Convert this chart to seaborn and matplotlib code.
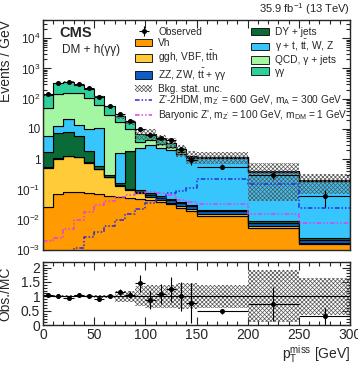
import numpy as np
import pandas as pd
import seaborn as sns
import matplotlib.pyplot as plt
from matplotlib.patches import Patch
from matplotlib.lines import Line2D
from matplotlib.ticker import LogLocator, NullFormatter, MultipleLocator

# binning in pTmiss [GeV]
edges = [0, 10, 20, 30, 40, 50, 60, 70, 80, 90, 100, 110, 120, 130, 140, 150, 200, 250, 300]

# backgrounds, events / GeV
vh = [0.026, 0.07, 0.08, 0.08, 0.076, 0.07, 0.062, 0.057, 0.052, 0.048, 0.045, 0.039, 0.033, 0.025, 0.02, 0.0135, 0.0055, 0.0016]
ggh = [0.504, 0.98, 1.2, 1.12, 0.704, 0.40, 0.188, 0.073, 0.045, 0.027, 0.013, 0.006, 0.004, 0.003, 0.002, 0.0015, 0.0005, 0.0001]
zz = [0.01, 0.02, 0.02, 0.02, 0.01, 0.01, 0.01, 0.01, 0.008, 0.007, 0.008, 0.009, 0.008, 0.007, 0.006, 0.004, 0.002, 0.0005]
dy = [1.16, 6.53, 6.7, 4.8, 1.1, 0.12, 0.04, 0.03, 1.8, 0.013, 0.009, 0.006, 0.005, 0.004, 0.003, 0.002, 0.0008, 0.0002]
gx = [4.2, 5.0, 13.0, 8.0, 7.9, 10.4, 0.0, 1.41, 0.0, 2.2, 2.9, 2.34, 1.95, 1.46, 1.07, 1.08, 0.37, 0.188]
qcd = [45, 127, 137, 136, 98, 49, 27.7, 15.4, 8.4, 1.3, 1.2, 0.7, 0.5, 0.3, 0.05, 0.05, 0.01, 0.005]
gg = [82, 190, 208, 141, 108, 61, 28, 10, 6.7, 3.3, 2.8, 1.4, 1.05, 0.3, 0.1, 0.05, 0.02, 0.005]
bkg_unc = [0.04, 0.03, 0.03, 0.03, 0.04, 0.05, 0.06, 0.2, 0.2, 0.35, 0.4, 0.4, 0.4, 0.45, 0.45, 0.4, 0.9, 0.65]

# data
obs = [140, 330, 348, 300, 220, 111, 56, 31, 18, 10, 6.1, 4.9, 4.4, 2.1, 0.95, 0.57, 0.30, 0.062]
obs_err = [3.7, 5.7, 5.9, 5.5, 4.7, 3.3, 2.4, 1.8, 1.3, 1.0, 0.8, 0.7, 0.66, 0.46, 0.31, 0.11, 0.08, 0.035]
ratio_err = [0.03, 0.02, 0.02, 0.02, 0.03, 0.03, 0.05, 0.1, 0.12, 0.3, 0.3, 0.35, 0.45, 0.5, 0.7, 0.09, 0.6, 0.3]

# signals
sig_2hdm = [0.0003, 0.0005, 0.0008, 0.0012, 0.0026, 0.004, 0.0063, 0.0095, 0.015, 0.022, 0.035, 0.05, 0.075, 0.09, 0.115, 0.22, 0.15, 0.025]
sig_bar = [0.002, 0.0024, 0.005, 0.0095, 0.018, 0.03, 0.042, 0.055, 0.065, 0.075, 0.08, 0.075, 0.065, 0.045, 0.04, 0.033, 0.015, 0.008]

procs = ['γγ', 'QCD, γ + jets', 'γ + t, $t\\bar{t}$, W, Z', 'DY + jets',
         'ZZ, ZW, $t\\bar{t}$ + γγ', 'ggh, VBF, $t\\bar{t}$h', 'Vh']
values = [gg, qcd, gx, dy, zz, ggh, vh]
colors = {'γγ': '#2fcf9c', 'QCD, γ + jets': '#a3f7a3', 'γ + t, $t\\bar{t}$, W, Z': '#36c6fb',
          'DY + jets': '#0a6a38', 'ZZ, ZW, $t\\bar{t}$ + γγ': '#0b5fc6',
          'ggh, VBF, $t\\bar{t}$h': '#ffcb38', 'Vh': '#ff9b00'}
hatch_col = '#555555'

e = np.array(edges, dtype=float)
centers = (e[:-1] + e[1:]) / 2
widths = np.diff(e)
mc = np.sum(np.array(values), axis=0)
obs = np.array(obs)
ratio = obs / mc

df = pd.DataFrame({'pt': np.tile(centers, len(procs)),
                   'value': np.concatenate(values),
                   'process': np.repeat(procs, len(centers))})

sns.set_style('ticks')
plt.rcParams['font.family'] = ['Liberation Sans', 'DejaVu Sans']
plt.rcParams['mathtext.default'] = 'regular'
plt.rcParams['hatch.linewidth'] = 0.5

fig = plt.figure(figsize=(3.58, 3.67), dpi=100)
ax = fig.add_axes([0.120, 0.3188, 0.858, 0.6267])
rax = fig.add_axes([0.120, 0.1144, 0.858, 0.172])

sns.histplot(data=df, x='pt', weights='value', hue='process', hue_order=procs, palette=colors,
             bins=edges, multiple='stack', element='step', fill=True, alpha=1,
             edgecolor='black', linewidth=0.8, legend=False, ax=ax)

# bkg stat unc
lo = np.clip(mc * (1 - np.array(bkg_unc)), 1e-5, None)
hi = mc * (1 + np.array(bkg_unc))
ax.fill_between(e, np.append(lo, lo[-1]), np.append(hi, hi[-1]), step='post',
                facecolor='none', edgecolor=hatch_col, hatch='xxxxxxxx', linewidth=0)

dash = (3, 1.3, 1, 1.3, 1, 1.3)
sns.lineplot(x=e, y=np.append(sig_2hdm, sig_2hdm[-1]), drawstyle='steps-post',
             color='#2b2be0', lw=1.1, dashes=dash, ax=ax)
sns.lineplot(x=e, y=np.append(sig_bar, sig_bar[-1]), drawstyle='steps-post',
             color='#e040f0', lw=1.1, dashes=dash, ax=ax)

eb = ax.errorbar(centers, obs, xerr=widths / 2, yerr=obs_err, fmt='o', ms=2.6,
                 color='black', elinewidth=0.8, capsize=0)

ax.set_yscale('log')
ax.set_ylim(1e-3, 4e4)
ax.set_xlim(0, 300)
yt = [1e-3, 1e-2, 1e-1, 1, 10, 1e2, 1e3, 1e4]
ax.set_yticks(yt, labels=['$10^{-3}$', '$10^{-2}$', '$10^{-1}$', '1', '10', '$10^{2}$', '$10^{3}$', '$10^{4}$'])
ax.yaxis.set_minor_locator(LogLocator(base=10, subs=np.arange(2, 10) * 1.0, numticks=20))
ax.yaxis.set_minor_formatter(NullFormatter())
ax.xaxis.set_major_locator(MultipleLocator(50))
ax.xaxis.set_minor_locator(MultipleLocator(10))
ax.tick_params(axis='x', labelbottom=False)
ax.set_xlabel('')
ax.set_ylabel('Events / GeV', loc='top', fontsize=10)
ax.yaxis.set_label_coords(-0.098, 1.0)

for a in (ax, rax):
    a.tick_params(which='both', direction='in', top=True, right=True, width=0.8)
    a.tick_params(which='major', length=6)
    a.tick_params(which='minor', length=3)
    for s in a.spines.values():
        s.set_linewidth(1.0)
ax.tick_params(axis='y', labelsize=8.5, pad=2)

ax.text(0.055, 0.945, 'CMS', transform=ax.transAxes, fontsize=10.5, fontweight='bold', va='center')
ax.text(0.062, 0.868, 'DM + h(γγ)', transform=ax.transAxes, fontsize=8.5, va='center')
ax.text(1.0, 1.012, '35.9 fb$^{-1}$ (13 TeV)', transform=ax.transAxes, fontsize=8, ha='right', va='bottom')

# legend
handles = [eb,
           Patch(facecolor=colors['Vh'], edgecolor='black', lw=0.6),
           Patch(facecolor=colors['ggh, VBF, $t\\bar{t}$h'], edgecolor='black', lw=0.6),
           Patch(facecolor=colors['ZZ, ZW, $t\\bar{t}$ + γγ'], edgecolor='black', lw=0.6),
           Patch(facecolor='white', edgecolor=hatch_col, hatch='xxxxxxxx', lw=0),
           Patch(facecolor=colors['DY + jets'], edgecolor='black', lw=0.6),
           Patch(facecolor=colors['γ + t, $t\\bar{t}$, W, Z'], edgecolor='black', lw=0.6),
           Patch(facecolor=colors['QCD, γ + jets'], edgecolor='black', lw=0.6),
           Patch(facecolor=colors['γγ'], edgecolor='black', lw=0.6)]
labels = ['Observed', 'Vh', 'ggh, VBF, $t\\bar{t}$h', 'ZZ, ZW, $t\\bar{t}$ + γγ', 'Bkg. stat. unc.',
          'DY + jets', 'γ + t, $t\\bar{t}$, W, Z', 'QCD, γ + jets', 'γγ']
leg1 = ax.legend(handles, labels, ncol=2, loc='upper left', bbox_to_anchor=(0.30, 0.97),
                 fontsize=7.3, frameon=False, borderpad=0, borderaxespad=0,
                 handlelength=1.7, handleheight=0.75, handletextpad=0.6,
                 columnspacing=2.4, labelspacing=0.12)
ax.add_artist(leg1)
sig_handles = [Line2D([], [], color='#2b2be0', lw=1.1, dashes=dash),
               Line2D([], [], color='#e040f0', lw=1.1, dashes=dash)]
sig_labels = ["Z'-2HDM, $m_{Z'}$ = 600 GeV, $m_{A}$ = 300 GeV",
              "Baryonic Z', $m_{Z'}$ = 100 GeV, $m_{DM}$ = 1 GeV"]
ax.legend(sig_handles, sig_labels, loc='upper left', bbox_to_anchor=(0.30, 0.68),
          fontsize=7.3, frameon=False, borderpad=0, borderaxespad=0,
          handlelength=1.7, handletextpad=0.6, labelspacing=0.12)

# ratio panel
rlo = 1 - np.array(bkg_unc)
rhi = 1 + np.array(bkg_unc)
rax.fill_between(e, np.append(rlo, rlo[-1]), np.append(rhi, rhi[-1]), step='post',
                 facecolor='none', edgecolor=hatch_col, hatch='xxxxxxxx', linewidth=0)
rax.axhline(1, color='black', lw=0.8)
rax.errorbar(centers, ratio, xerr=widths / 2, yerr=ratio_err, fmt='o', ms=2.6,
             color='black', elinewidth=0.8, capsize=0)
rax.set_xlim(0, 300)
rax.set_ylim(0, 2.2)
rax.set_yticks([0, 0.5, 1, 1.5, 2], labels=['0', '0.5', '1', '1.5', '2'])
rax.yaxis.set_minor_locator(MultipleLocator(0.1))
rax.xaxis.set_major_locator(MultipleLocator(50))
rax.xaxis.set_minor_locator(MultipleLocator(10))
rax.tick_params(axis='both', labelsize=10, pad=2)
rax.set_ylabel('Obs./MC', fontsize=10)
rax.yaxis.set_label_coords(-0.098, 0.5)
rax.set_xlabel('$p_{T}^{miss}$ [GeV]', loc='right', fontsize=10, labelpad=1)

fig.savefig('out.png', dpi=100)
